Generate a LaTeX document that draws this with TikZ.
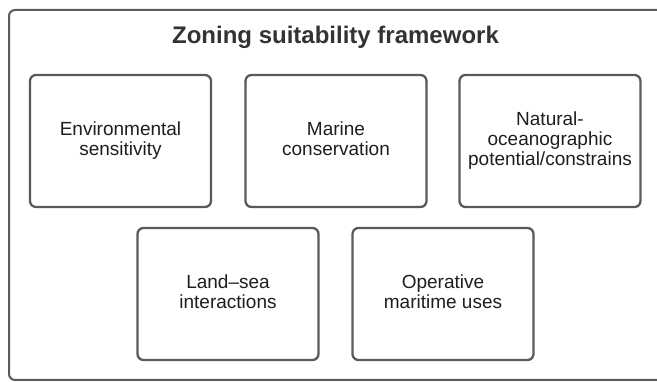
\documentclass[tikz,border=0pt]{standalone}
\usepackage{fontspec}
\setmainfont{Liberation Sans}
\usepackage{tikz}
\usepackage{xcolor}
\definecolor{framec}{RGB}{90,90,90}
\definecolor{textc}{RGB}{30,30,30}
\tikzset{
  frame/.style={rounded corners=6pt,draw=framec,line width=2pt},
  crit/.style={rectangle,rounded corners=6pt,draw=framec,line width=2.3pt,fill=white,
    minimum width=181pt,minimum height=132pt,inner sep=2pt,align=center,
    text=textc,font=\fontsize{19}{20}\selectfont},
  ttl/.style={font=\fontsize{24}{28}\selectfont\bfseries,text=black!80},
}

\begin{document}
\begin{tikzpicture}[x=1pt,y=-1pt]
  \useasboundingbox (0,0) rectangle (657,382);
  \clip (0,0) rectangle (657,382);
  % outer frame + heading
  \draw[frame] (9,10) rectangle (668,380);
  \node[ttl,anchor=base] (title) at (335.5,44) {Zoning suitability framework};
  % top row
  \node[crit,text depth=4pt] (env) at (120.5,141) {Environmental\\sensitivity};
  \node[crit,text depth=4pt] (mar) at (336,141) {Marine\\conservation};
  \node[crit] (nat) at (550,141) {Natural-\\oceanographic\\potential/constrains};
  % bottom row
  \node[crit,text depth=4pt] (lsi) at (228,294) {Land--sea\\interactions};
  \node[crit,text depth=4pt] (opm) at (443,294) {Operative\\maritime uses};
\end{tikzpicture}
\end{document}
